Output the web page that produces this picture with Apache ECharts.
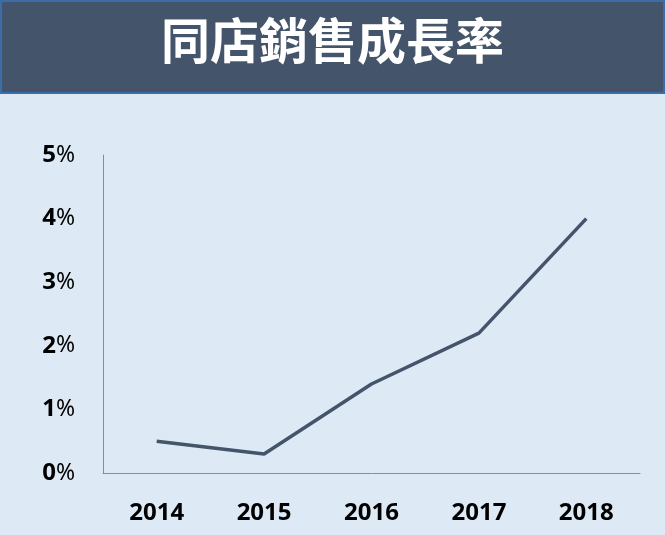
<!DOCTYPE html>
<html>
<head>
<meta charset="utf-8">
<script src="https://cdn.jsdelivr.net/npm/echarts@6/dist/echarts.min.js"></script>
<style>
  html, body { margin: 0; padding: 0; background: #dde9f5; }
  #main { width: 665px; height: 535px; }
</style>
</head>
<body>
<div id="main"></div>
<script>
var years = ['2014', '2015', '2016', '2017', '2018'];
var growth = [0.5, 0.3, 1.4, 2.2, 4.0];
var chartTitle = '同店銷售成長率';

var myChart = echarts.init(document.getElementById('main'));

var option = {
    backgroundColor: '#dde9f5',
    graphic: [{
        type: 'rect',
        z: -1,
        shape: { x: 1, y: 1, width: 663, height: 92 },
        style: { fill: '#44546a', stroke: '#3b6ea8', lineWidth: 2 }
    }],
    title: {
        text: chartTitle,
        left: 'center',
        top: 11,
        textStyle: {
            color: '#ffffff',
            fontSize: 49,
            fontWeight: 'bold',
            fontFamily: 'Noto Sans CJK TC'
        }
    },
    grid: {
        left: 103,
        right: 25,
        top: 155,
        bottom: 62
    },
    xAxis: {
        type: 'category',
        data: years,
        boundaryGap: true,
        axisLine: { lineStyle: { color: '#8c8c8c', width: 1 } },
        axisTick: { show: false },
        axisLabel: {
            color: '#000',
            fontSize: 24,
            fontWeight: 'bold',
            fontFamily: 'Noto Sans',
            margin: 28
        }
    },
    yAxis: {
        type: 'value',
        min: 0,
        max: 5,
        interval: 1,
        axisLine: { show: true, lineStyle: { color: '#8c8c8c', width: 1 } },
        axisTick: { show: false },
        splitLine: { show: false },
        axisLabel: {
            color: '#000',
            margin: 28,
            formatter: function (v) { return '{n|' + v + '}{p|%}'; },
            rich: {
                n: { fontSize: 24, fontWeight: 'bold', fontFamily: 'Noto Sans', color: '#000' },
                p: { fontSize: 23, fontWeight: 'normal', fontFamily: 'Noto Sans', color: '#000' }
            }
        }
    },
    series: [{
        type: 'line',
        data: growth,
        symbol: 'none',
        lineStyle: { color: '#44546a', width: 3.5 }
    }]
};

myChart.setOption(option);
</script>
</body>
</html>
